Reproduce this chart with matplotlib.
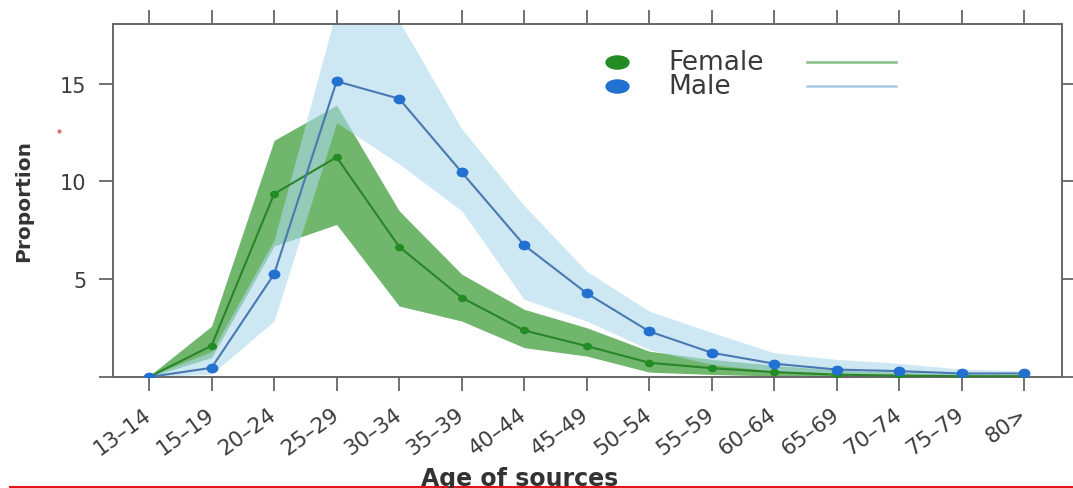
import matplotlib
matplotlib.use("Agg")
import matplotlib.pyplot as plt
from matplotlib.path import Path
from matplotlib.transforms import Affine2D
from matplotlib.lines import Line2D
import numpy as np

# ---- data ----
categories = ["13–14", "15–19", "20–24", "25–29", "30–34", "35–39", "40–44",
              "45–49", "50–54", "55–59", "60–64", "65–69", "70–74", "75–79", "80>"]

female = [0.0, 1.6, 9.36, 11.24, 6.66, 4.06, 2.38, 1.58, 0.73, 0.45, 0.25, 0.12, 0.07, 0.04, 0.04]
female_lo = [0.0, 1.0, 6.7, 7.8, 3.63, 2.86, 1.5, 1.07, 0.25, 0.13, 0.05, 0.02, 0.01, 0.0, 0.0]
female_hi = [0.05, 2.6, 12.1, 13.9, 8.5, 5.26, 3.46, 2.52, 1.32, 0.9, 0.6, 0.35, 0.25, 0.15, 0.12]

male = [0.0, 0.47, 5.26, 15.12, 14.23, 10.47, 6.74, 4.28, 2.33, 1.24, 0.68, 0.38, 0.3, 0.18, 0.18]
male_lo = [0.0, 0.15, 2.86, 13.0, 10.9, 8.5, 3.97, 2.86, 1.4, 0.64, 0.3, 0.15, 0.1, 0.05, 0.05]
male_hi = [0.05, 1.3, 7.0, 18.8, 18.2, 12.7, 8.76, 5.4, 3.37, 2.27, 1.24, 0.9, 0.7, 0.4, 0.3]

series_labels = ["Female", "Male"]
yticks = [0, 5, 10, 15]
ytick_labels = ["", "5", "10", "15"]

# ---- styling ----
GREEN_BAND = "#70b66c"
GREEN_LINE = "#2a852a"
GREEN_PT = "#238b23"
BLUE_BAND = "#add8eb"
BLUE_LINE = "#4a78b0"
BLUE_PT = "#2271d1"
AXIS_COL = "#666666"
TEXT_COL = "#3c3c3c"

ellipse = Path.unit_circle().transformed(Affine2D().scale(1.75, 1.0))
ellipse_small = Path.unit_circle().transformed(Affine2D().scale(1.25, 1.0))

fig = plt.figure(figsize=(10.73, 4.89), dpi=100)
ax = fig.add_axes([113/1073, 1-378/489, 949/1073, 353/489])

x = np.arange(len(categories))

ax.fill_between(x, female_lo, female_hi, color=GREEN_BAND, lw=0, zorder=1)
ax.fill_between(x, male_lo, male_hi, color=BLUE_BAND, alpha=0.6, lw=0, zorder=2)
ax.plot(x, female, color=GREEN_LINE, lw=1.5, marker=ellipse_small, ms=5.5,
        mfc=GREEN_PT, mec=GREEN_PT, zorder=4)
ax.plot(x, male, color=BLUE_LINE, lw=1.5, marker=ellipse_small, ms=7.5,
        mfc=BLUE_PT, mec=BLUE_PT, zorder=5)

ax.set_xlim(-0.576, 14.6)
ax.set_ylim(0, 18.05)

ax.set_xticks(x)
ax.set_xticklabels(categories, rotation=36, ha="right", va="center",
                   rotation_mode="anchor", fontsize=15.5, color=TEXT_COL)
ax.set_yticks(yticks)
ax.set_yticklabels(ytick_labels, fontsize=15, color=TEXT_COL)
ax.tick_params(axis="both", direction="out", length=10, width=1.3, color=AXIS_COL,
               top=True, right=True, labeltop=False, labelright=False)
ax.tick_params(axis="x", pad=15)
ax.tick_params(axis="y", pad=9)
for s in ax.spines.values():
    s.set_color(AXIS_COL)
    s.set_linewidth(1.4)

ax.set_ylabel("Proportion", fontsize=14.5, fontweight="bold", color="#333333")
ax.yaxis.set_label_coords((33 - 113) / 949, 0.5)

fig.text(520/1073, 1-486.5/489, "Age of sources", ha="center", va="baseline",
         fontsize=17, fontweight="bold", color="#333333")

# legend (manual, lattice style)
leg_cols = [GREEN_PT, BLUE_PT]
leg_line_cols = ["#86bd84", "#a9c9e6"]
leg_y = [0.8915, 0.8246]
for lab, c, lc, yy in zip(series_labels, leg_cols, leg_line_cols, leg_y):
    ax.plot([0.531], [yy], transform=ax.transAxes, marker=ellipse, ms=16.5,
            mfc=c, mec=c, ls="none", zorder=6, clip_on=False)
    ax.text(0.5848, yy, lab, transform=ax.transAxes, ha="left", va="center",
            fontsize=19, color="#3a3a3a", zorder=6)
    ax.plot([0.7318, 0.8256], [yy, yy], transform=ax.transAxes, color=lc, lw=1.8,
            zorder=6)

# red underline artifact of the slide
fig.add_artist(Line2D([10/1073, 1.0], [1-487.5/489, 1-487.5/489], color="#e3141c",
                      lw=2.2, transform=fig.transFigure))
fig.add_artist(Line2D([59/1073], [1-132/489], marker="o", ms=2, color="#e07070",
                      transform=fig.transFigure, ls="none"))

fig.savefig("out.png", dpi=100)
